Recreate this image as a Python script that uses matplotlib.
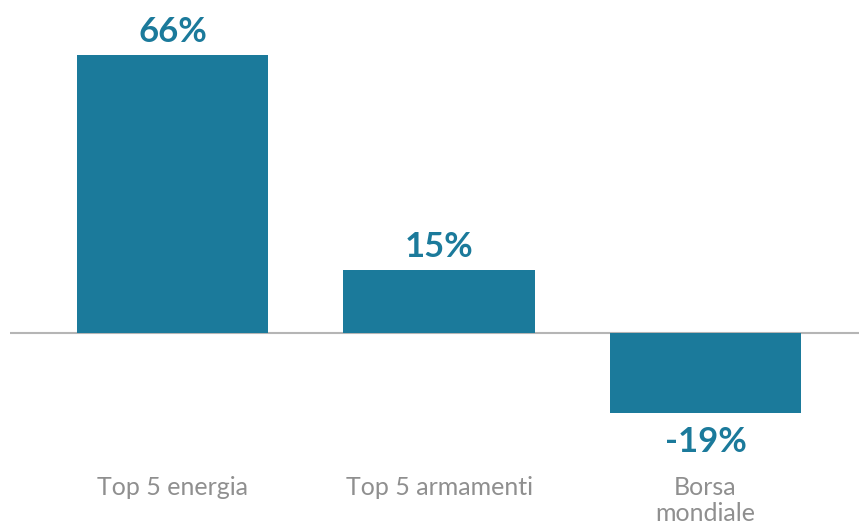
import matplotlib.pyplot as plt

# Rendimento per gruppo
categorie = ["Top 5 energia", "Top 5 armamenti", "Borsa\nmondiale"]
valori = [66, 15, -19]
etichette = ["66%", "15%", "-19%"]

blu = "#1b7a9b"
grigio = "#8f8f8f"

fig = plt.figure(figsize=(8.59, 5.26), dpi=100)
ax = fig.add_axes([10 / 859, 0, 849 / 859, 1])

x = range(len(valori))
ax.bar(x, valori, width=0.717, color=blu, zorder=2)
ax.axhline(0, color="#b5b5b5", lw=1.5, zorder=1)

ax.set_xlim(-0.61, 2.576)
ax.set_ylim(-45.8, 79.1)
ax.axis("off")

for xi, v, lab in zip(x, valori, etichette):
    if v >= 0:
        ax.annotate(lab, (xi, v), xytext=(0, 5), textcoords="offset points",
                    ha="center", va="bottom", fontsize=25, fontweight="bold",
                    family="Lato", color=blu)
    else:
        ax.annotate(lab, (xi, v), xytext=(0, -9), textcoords="offset points",
                    ha="center", va="top", fontsize=25, fontweight="bold",
                    family="Lato", color=blu)

for xi, cat in zip(x, categorie):
    ax.text(xi, -33.9, cat, ha="center", va="top", fontsize=18,
            family="Lato", color=grigio, linespacing=1.17)

fig.savefig("out.png", dpi=100)
